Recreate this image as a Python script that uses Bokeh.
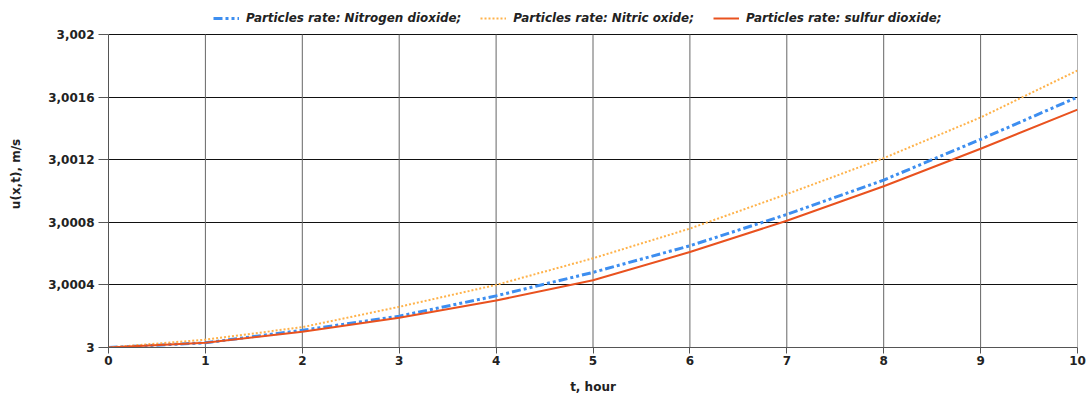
from bokeh.plotting import figure
from bokeh.models import FixedTicker, CustomJSTickFormatter, Legend, LegendItem, Range1d
from bokeh.embed import file_html
from bokeh.resources import INLINE

t = [0, 1, 2, 3, 4, 5, 6, 7, 8, 9, 10]
no2 = [3.0, 3.00003, 3.00011, 3.00020, 3.00033, 3.00048, 3.00065, 3.00085, 3.00107, 3.00133, 3.00160]
no = [3.0, 3.00005, 3.00013, 3.00026, 3.00040, 3.00057, 3.00076, 3.00098, 3.00121, 3.00147, 3.00177]
so2 = [3.0, 3.00003, 3.00010, 3.00019, 3.00030, 3.00043, 3.00061, 3.00081, 3.00103, 3.00127, 3.00152]
labels = ["Particles rate: Nitrogen dioxide;", "Particles rate: Nitric oxide;", "Particles rate: sulfur dioxide;"]
x_ticks = [0, 1, 2, 3, 4, 5, 6, 7, 8, 9, 10]
y_ticks = [3.0, 3.0004, 3.0008, 3.0012, 3.0016, 3.002]

FONT = "DejaVu Sans"
Y0, Y1 = 3.0, 3.002
Y_TOP = Y1 + (Y1 - Y0) * 34 / 313  # headroom for the legend above the plot box

p = figure(width=1088, height=399, output_backend="svg", toolbar_location=None,
           x_range=Range1d(0, 10), y_range=Range1d(Y0, Y_TOP))
p.min_border_left = 108
p.min_border_right = 11
p.min_border_top = 0
p.min_border_bottom = 52
p.outline_line_color = None
p.background_fill_color = "white"
p.border_fill_color = "white"

# vertical grid lines, limited to the plot box (drawn at the x tick positions)
p.segment(x0=x_ticks, y0=[Y0] * len(x_ticks), x1=x_ticks, y1=[Y1] * len(x_ticks),
          line_color="#666666", line_width=1)

r1 = p.line(t, no2, line_color="#3d8ef0", line_width=3, line_dash="9 3 3 3 3 3")
r2 = p.line(t, no, line_color="#ffb24a", line_width=2, line_dash="2 2")
r3 = p.line(t, so2, line_color="#e9521f", line_width=2)

p.xaxis.ticker = FixedTicker(ticks=x_ticks)
p.yaxis.ticker = FixedTicker(ticks=y_ticks)
p.yaxis.bounds = (Y0, Y1)
p.yaxis.formatter = CustomJSTickFormatter(code="return parseFloat(tick.toFixed(4)).toString().replace('.', ',');")
for ax in (p.xaxis[0], p.yaxis[0]):
    ax.major_label_text_font = FONT
    ax.major_label_text_font_style = "bold"
    ax.major_label_text_font_size = "12px"
    ax.major_label_text_color = "#222222"
    ax.axis_label_text_font = FONT
    ax.axis_label_text_font_style = "bold"
    ax.axis_label_text_font_size = "12px"
    ax.axis_label_text_color = "#222222"
    ax.axis_line_color = "#555555"
    ax.major_tick_line_color = "#555555"
    ax.minor_tick_line_color = None
    ax.major_tick_in = 0
p.xaxis.major_tick_out = 6
p.yaxis.major_tick_out = 10
p.yaxis.major_label_standoff = 4
p.xaxis.major_label_standoff = 2
p.yaxis.axis_label_standoff = 22
p.xaxis.axis_label_standoff = 12
p.xaxis.axis_label = "t, hour"
p.yaxis.axis_label = "u(x,t), m/s"

p.xgrid.grid_line_color = None
p.ygrid.grid_line_color = "#111111"
p.ygrid.grid_line_alpha = 1

legend = Legend(items=[LegendItem(label=labels[0], renderers=[r1]),
                       LegendItem(label=labels[1], renderers=[r2]),
                       LegendItem(label=labels[2], renderers=[r3])],
                orientation="horizontal", location=(105, 322),
                label_text_font=FONT, label_text_font_style="bold italic",
                label_text_font_size="11.9px", label_text_color="#222222",
                glyph_width=26, glyph_height=12, spacing=19, label_standoff=7,
                padding=2, margin=0,
                border_line_color=None, background_fill_alpha=0)
p.add_layout(legend, "center")

open("out.html", "w").write(file_html(p, INLINE))
